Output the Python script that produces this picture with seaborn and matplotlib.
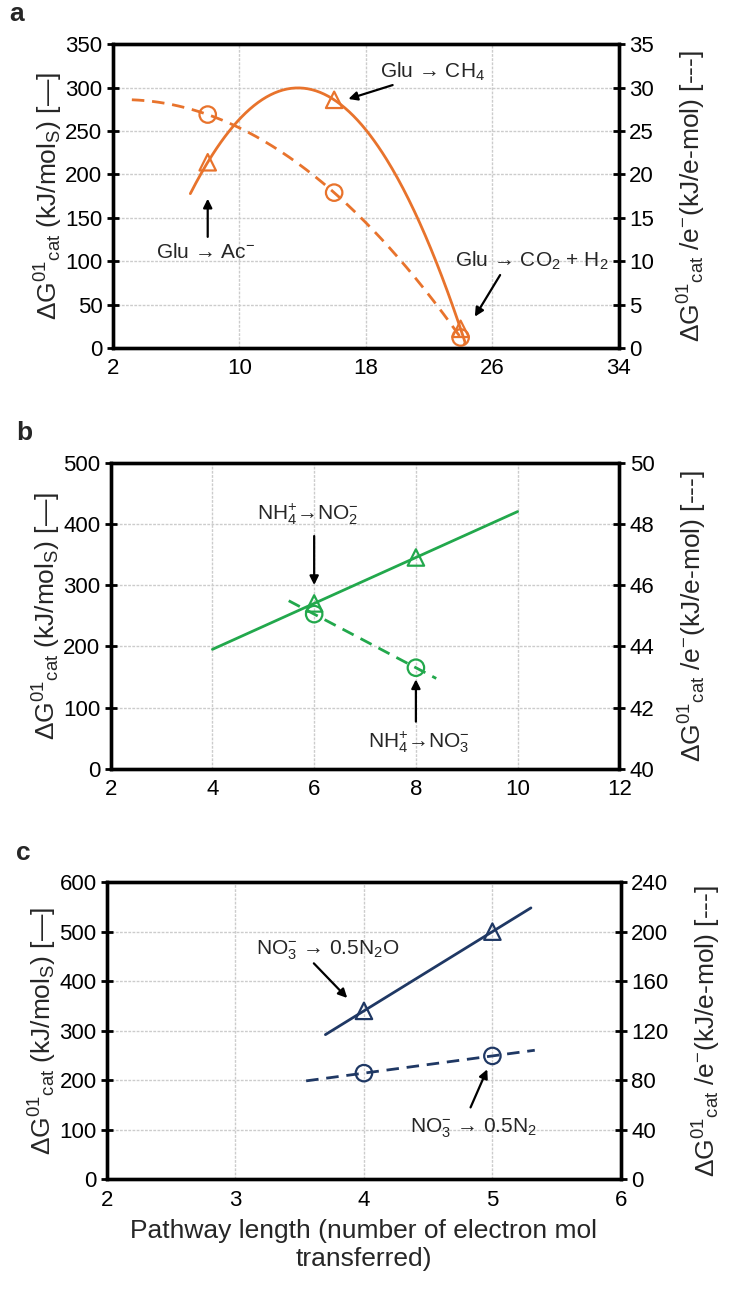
import numpy as np
import pandas as pd
import seaborn as sns
import matplotlib.pyplot as plt

# ---- data ----
# panel a: glucose pathways
a_x = [8, 16, 24]
a_tri = [214, 286, 22]          # kJ/mol_S (left axis)
a_circ = [26.9, 17.9, 1.2]      # kJ/e-mol (right axis)
a_tri_range = [6.9, 24.3]
a_circ_range = [3.2, 24.3]

# panel b: nitrification
b_x = [6, 8]
b_tri = [270, 345]
b_circ = [45.05, 43.3]
b_tri_range = [4, 10]
b_circ_range = [5.5, 8.4]

# panel c: denitrification
c_x = [4, 5]
c_tri = [340, 500]
c_circ = [85.7, 99.6]
c_tri_range = [3.7, 5.3]
c_circ_range = [3.55, 5.33]

orange = '#E8732C'
green = '#22A84C'
navy = '#1F3864'

sns.set_style('white')
plt.rcParams['font.family'] = ['Liberation Sans', 'DejaVu Sans']
plt.rcParams['mathtext.fontset'] = 'custom'
plt.rcParams['mathtext.rm'] = 'Liberation Sans'
plt.rcParams['mathtext.it'] = 'Liberation Sans'

fig = plt.figure(figsize=(7.33, 13.03), dpi=100)

left_lab = r'$\Delta$G$^{01}$$_{\rm cat}$ (kJ/mol$_{\rm S}$) [—]'
right_lab = r'$\Delta$G$^{01}$$_{\rm cat}$ /e$^{-}$(kJ/e-mol) [---]'


def style_axes(ax, ax2):
    for a in (ax, ax2):
        for s in a.spines.values():
            s.set_linewidth(2.4)
            s.set_color('black')
        a.tick_params(direction='inout', length=9, width=2, labelsize=16,
                      colors='black', pad=3)
    ax.grid(True, color='#cccccc', lw=1.0, ls=(0, (2, 1)))
    ax.set_axisbelow(True)
    ax2.grid(False)
    ax.set_xlabel('')
    ax.set_ylabel(left_lab, fontsize=19, labelpad=0)
    ax2.set_ylabel(right_lab, fontsize=19, labelpad=16)


def trend(ax, xs, ys, rng, deg, color, ls):
    coef = np.polyfit(xs, ys, deg)
    xx = np.linspace(rng[0], rng[1], 200)
    df = pd.DataFrame({'x': xx, 'y': np.polyval(coef, xx)})
    sns.lineplot(data=df, x='x', y='y', ax=ax, color=color, lw=2.0,
                 linestyle=ls, legend=False)


def points(ax, xs, ys, marker, color):
    sns.scatterplot(x=xs, y=ys, ax=ax, marker=marker, s=140, legend=False)
    coll = ax.collections[-1]
    coll.set_facecolor('none')
    coll.set_edgecolor(color)
    coll.set_linewidth(1.6)


def arrow(ax, tail, head):
    ax.annotate('', xy=head, xytext=tail,
                arrowprops=dict(arrowstyle='-|>', color='black', lw=1.6,
                                mutation_scale=13, shrinkA=0, shrinkB=0))


dash = (0, (4.5, 2.8))
fs_ann = 15

# ======================
# a
# ======================
ax = fig.add_axes([0.154, 0.733, 0.690, 0.233])
ax2 = ax.twinx()
trend(ax, a_x, a_tri, a_tri_range, 2, orange, '-')
points(ax, a_x, a_tri, '^', orange)
trend(ax2, a_x, a_circ, a_circ_range, 2, orange, dash)
points(ax2, a_x, a_circ, 'o', orange)
ax.set_xlim(2, 34)
ax.set_xticks([2, 10, 18, 26, 34])
ax.set_ylim(0, 350)
ax.set_yticks(range(0, 351, 50))
ax2.set_ylim(0, 35)
ax2.set_yticks(range(0, 36, 5))
style_axes(ax, ax2)
ax.text(22.2, 318, r'Glu → CH$_4$', fontsize=fs_ann, ha='center', va='center')
arrow(ax, (19.7, 303), (16.9, 287))
ax.text(7.9, 110, r'Glu → Ac$^{-}$', fontsize=fs_ann, ha='center', va='center')
arrow(ax, (8.0, 128), (8.0, 172))
ax.text(28.5, 100, r'Glu → CO$_2$ + H$_2$', fontsize=fs_ann, ha='center', va='center')
arrow(ax, (26.5, 84), (24.9, 36))
fig.text(0.012, 0.989, 'a', fontsize=19, fontweight='bold', va='center')

# ======================
# b
# ======================
ax = fig.add_axes([0.151, 0.410, 0.694, 0.235])
ax2 = ax.twinx()
trend(ax, b_x, b_tri, b_tri_range, 1, green, '-')
points(ax, b_x, b_tri, '^', green)
trend(ax2, b_x, b_circ, b_circ_range, 1, green, dash)
points(ax2, b_x, b_circ, 'o', green)
ax.set_xlim(2, 12)
ax.set_xticks(range(2, 13, 2))
ax.set_ylim(0, 500)
ax.set_yticks(range(0, 501, 100))
ax2.set_ylim(40, 50)
ax2.set_yticks(range(40, 51, 2))
style_axes(ax, ax2)
ax.text(5.88, 416, r'NH$_4^{+}$→NO$_2^{-}$', fontsize=fs_ann, ha='center', va='center')
arrow(ax, (6.0, 380), (6.0, 300))
ax.text(8.06, 44, r'NH$_4^{+}$→NO$_3^{-}$', fontsize=fs_ann, ha='center', va='center')
arrow(ax, (8.0, 77), (8.0, 146))
fig.text(0.022, 0.668, 'b', fontsize=19, fontweight='bold', va='center')

# ======================
# c
# ======================
ax = fig.add_axes([0.146, 0.095, 0.701, 0.228])
ax2 = ax.twinx()
trend(ax, c_x, c_tri, c_tri_range, 1, navy, '-')
points(ax, c_x, c_tri, '^', navy)
trend(ax2, c_x, c_circ, c_circ_range, 1, navy, dash)
points(ax2, c_x, c_circ, 'o', navy)
ax.set_xlim(2, 6)
ax.set_xticks(range(2, 7))
ax.set_ylim(0, 600)
ax.set_yticks(range(0, 601, 100))
ax2.set_ylim(0, 240)
ax2.set_yticks(range(0, 241, 40))
style_axes(ax, ax2)
ax.set_xlabel('Pathway length (number of electron mol\ntransferred)',
              fontsize=19, labelpad=6)
ax.text(3.72, 463, r'NO$_3^{-}$ → 0.5N$_2$O', fontsize=fs_ann, ha='center', va='center')
arrow(ax, (3.61, 436), (3.87, 366))
ax.text(4.85, 103, r'NO$_3^{-}$ → 0.5N$_2$', fontsize=fs_ann, ha='center', va='center')
arrow(ax, (4.83, 145), (4.96, 222))
fig.text(0.022, 0.345, 'c', fontsize=19, fontweight='bold', va='center')

fig.savefig('out.png', dpi=100)
